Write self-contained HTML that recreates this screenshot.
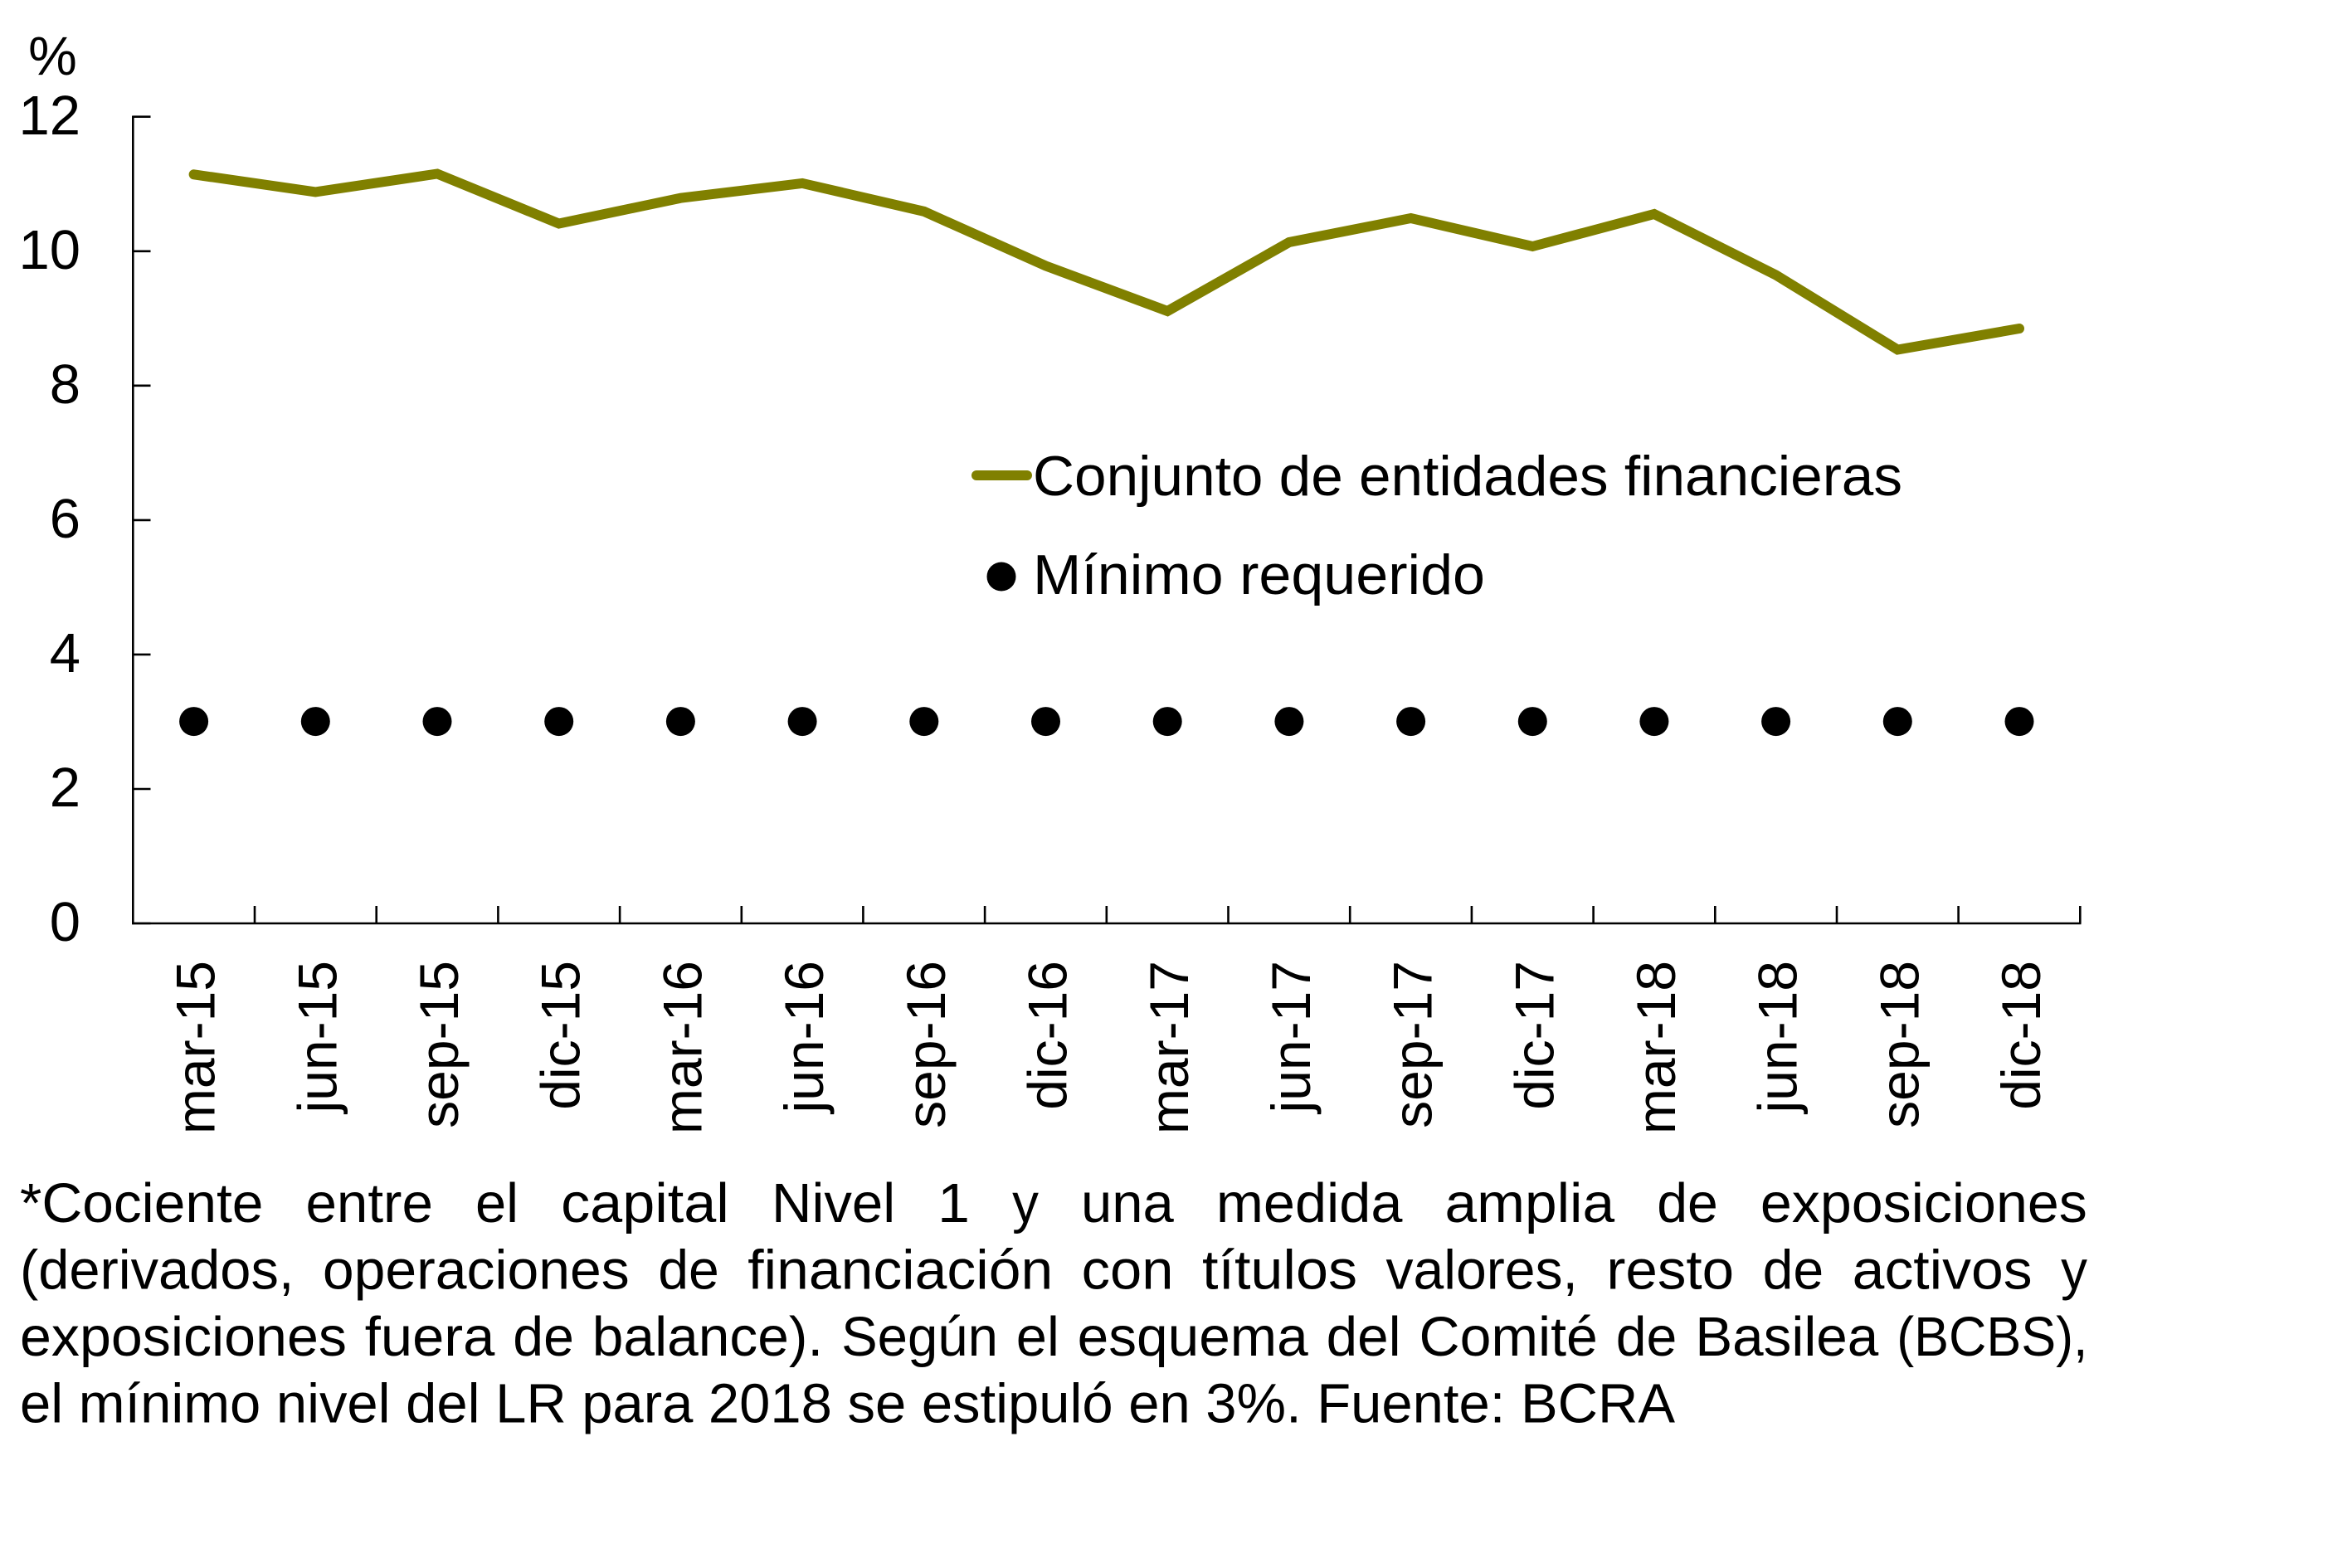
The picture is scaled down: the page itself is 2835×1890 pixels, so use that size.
<!DOCTYPE html>
<html>
<head>
<meta charset="utf-8">
<style>
html,body{margin:0;padding:0;background:#fff;}
svg{display:block;}
text{font-family:"Liberation Sans",sans-serif;fill:#000;}
</style>
</head>
<body>
<svg width="2835" height="1890" viewBox="0 0 2835 1890" xmlns="http://www.w3.org/2000/svg">
<rect width="2835" height="1890" fill="#fff"/>

<!-- unit label -->
<text x="63.5" y="90" font-size="66" text-anchor="middle">%</text>

<!-- y tick labels -->
<g font-size="67" text-anchor="end">
<text x="97" y="162">12</text>
<text x="97" y="324">10</text>
<text x="97" y="486">8</text>
<text x="97" y="648">6</text>
<text x="97" y="810">4</text>
<text x="97" y="972">2</text>
<text x="97" y="1134">0</text>
</g>

<!-- axes -->
<g stroke="#000" stroke-width="2.6" fill="none">
<line x1="160.3" y1="139.5" x2="160.3" y2="1114.3"/>
<line x1="159" y1="1113" x2="2508.5" y2="1113"/>
<line x1="160.3" y1="140.7" x2="181.5" y2="140.7"/>
<line x1="160.3" y1="302.8" x2="181.5" y2="302.8"/>
<line x1="160.3" y1="464.8" x2="181.5" y2="464.8"/>
<line x1="160.3" y1="626.9" x2="181.5" y2="626.9"/>
<line x1="160.3" y1="788.9" x2="181.5" y2="788.9"/>
<line x1="160.3" y1="951" x2="181.5" y2="951"/>
<line x1="160.3" y1="1113" x2="181.5" y2="1113"/>
<line x1="307.0" y1="1113" x2="307.0" y2="1092"/>
<line x1="453.7" y1="1113" x2="453.7" y2="1092"/>
<line x1="600.4" y1="1113" x2="600.4" y2="1092"/>
<line x1="747.1" y1="1113" x2="747.1" y2="1092"/>
<line x1="893.8" y1="1113" x2="893.8" y2="1092"/>
<line x1="1040.4" y1="1113" x2="1040.4" y2="1092"/>
<line x1="1187.1" y1="1113" x2="1187.1" y2="1092"/>
<line x1="1333.8" y1="1113" x2="1333.8" y2="1092"/>
<line x1="1480.5" y1="1113" x2="1480.5" y2="1092"/>
<line x1="1627.2" y1="1113" x2="1627.2" y2="1092"/>
<line x1="1773.9" y1="1113" x2="1773.9" y2="1092"/>
<line x1="1920.6" y1="1113" x2="1920.6" y2="1092"/>
<line x1="2067.3" y1="1113" x2="2067.3" y2="1092"/>
<line x1="2214.0" y1="1113" x2="2214.0" y2="1092"/>
<line x1="2360.6" y1="1113" x2="2360.6" y2="1092"/>
<line x1="2507.3" y1="1113" x2="2507.3" y2="1092"/>
</g>

<!-- x tick labels (rotated) -->
<g font-size="66" text-anchor="end">
<text transform="translate(258.6,1158) rotate(-90)">mar-15</text>
<text transform="translate(405.3,1158) rotate(-90)">jun-15</text>
<text transform="translate(552.0,1158) rotate(-90)">sep-15</text>
<text transform="translate(698.7,1158) rotate(-90)">dic-15</text>
<text transform="translate(845.4,1158) rotate(-90)">mar-16</text>
<text transform="translate(992.1,1158) rotate(-90)">jun-16</text>
<text transform="translate(1138.8,1158) rotate(-90)">sep-16</text>
<text transform="translate(1285.5,1158) rotate(-90)">dic-16</text>
<text transform="translate(1432.2,1158) rotate(-90)">mar-17</text>
<text transform="translate(1578.9,1158) rotate(-90)">jun-17</text>
<text transform="translate(1725.6,1158) rotate(-90)">sep-17</text>
<text transform="translate(1872.3,1158) rotate(-90)">dic-17</text>
<text transform="translate(2018.9,1158) rotate(-90)">mar-18</text>
<text transform="translate(2165.6,1158) rotate(-90)">jun-18</text>
<text transform="translate(2312.3,1158) rotate(-90)">sep-18</text>
<text transform="translate(2459.0,1158) rotate(-90)">dic-18</text>
</g>

<!-- main series -->
<polyline fill="none" stroke="#808000" stroke-width="12" stroke-linecap="round" stroke-linejoin="miter"
points="233.6,210.3 380.3,231.4 527.0,209.5 673.7,269.5 820.4,238.7 967.1,220.9 1113.8,254.9 1260.5,320.5 1407.2,375 1553.9,292 1700.6,263 1847.3,297 1993.9,258 2140.6,331.5 2287.3,421.5 2434.0,396"/>

<!-- minimum dots -->
<g fill="#000">
<circle cx="233.6" cy="869.6" r="17.5"/>
<circle cx="380.3" cy="869.6" r="17.5"/>
<circle cx="527.0" cy="869.6" r="17.5"/>
<circle cx="673.7" cy="869.6" r="17.5"/>
<circle cx="820.4" cy="869.6" r="17.5"/>
<circle cx="967.1" cy="869.6" r="17.5"/>
<circle cx="1113.8" cy="869.6" r="17.5"/>
<circle cx="1260.5" cy="869.6" r="17.5"/>
<circle cx="1407.2" cy="869.6" r="17.5"/>
<circle cx="1553.9" cy="869.6" r="17.5"/>
<circle cx="1700.6" cy="869.6" r="17.5"/>
<circle cx="1847.3" cy="869.6" r="17.5"/>
<circle cx="1993.9" cy="869.6" r="17.5"/>
<circle cx="2140.6" cy="869.6" r="17.5"/>
<circle cx="2287.3" cy="869.6" r="17.5"/>
<circle cx="2434.0" cy="869.6" r="17.5"/>
</g>

<!-- legend -->
<line x1="1177" y1="573" x2="1238" y2="573" stroke="#808000" stroke-width="12" stroke-linecap="round"/>
<text x="1245" y="597" font-size="68" textLength="1048" lengthAdjust="spacingAndGlyphs">Conjunto de entidades financieras</text>
<circle cx="1207" cy="695" r="17.5" fill="#000"/>
<text x="1245" y="716" font-size="68" textLength="545" lengthAdjust="spacingAndGlyphs">Mínimo requerido</text>

<!-- footnote -->
<g font-size="67">
<text x="24" y="1473" textLength="293.4" lengthAdjust="spacingAndGlyphs">*Cociente</text>
<text x="368.5" y="1473" textLength="153.4" lengthAdjust="spacingAndGlyphs">entre</text>
<text x="573.0" y="1473" textLength="52.0" lengthAdjust="spacingAndGlyphs">el</text>
<text x="676.1" y="1473" textLength="202.8" lengthAdjust="spacingAndGlyphs">capital</text>
<text x="930.0" y="1473" textLength="149.1" lengthAdjust="spacingAndGlyphs">Nivel</text>
<text x="1130.2" y="1473" textLength="38.8" lengthAdjust="spacingAndGlyphs">1</text>
<text x="1220.1" y="1473" textLength="31.8" lengthAdjust="spacingAndGlyphs">y</text>
<text x="1303.0" y="1473" textLength="111.8" lengthAdjust="spacingAndGlyphs">una</text>
<text x="1465.9" y="1473" textLength="224.5" lengthAdjust="spacingAndGlyphs">medida</text>
<text x="1741.5" y="1473" textLength="204.6" lengthAdjust="spacingAndGlyphs">amplia</text>
<text x="1997.2" y="1473" textLength="73.6" lengthAdjust="spacingAndGlyphs">de</text>
<text x="2121.9" y="1473" textLength="393.9" lengthAdjust="spacingAndGlyphs">exposiciones</text>
<text x="24" y="1553.5" textLength="330.4" lengthAdjust="spacingAndGlyphs">(derivados,</text>
<text x="388.9" y="1553.5" textLength="369.8" lengthAdjust="spacingAndGlyphs">operaciones</text>
<text x="793.2" y="1553.5" textLength="73.6" lengthAdjust="spacingAndGlyphs">de</text>
<text x="901.3" y="1553.5" textLength="367.9" lengthAdjust="spacingAndGlyphs">financiación</text>
<text x="1303.7" y="1553.5" textLength="110.8" lengthAdjust="spacingAndGlyphs">con</text>
<text x="1449.0" y="1553.5" textLength="187.0" lengthAdjust="spacingAndGlyphs">títulos</text>
<text x="1670.5" y="1553.5" textLength="231.4" lengthAdjust="spacingAndGlyphs">valores,</text>
<text x="1936.4" y="1553.5" textLength="153.7" lengthAdjust="spacingAndGlyphs">resto</text>
<text x="2124.6" y="1553.5" textLength="73.6" lengthAdjust="spacingAndGlyphs">de</text>
<text x="2232.7" y="1553.5" textLength="216.9" lengthAdjust="spacingAndGlyphs">activos</text>
<text x="2484.1" y="1553.5" textLength="31.8" lengthAdjust="spacingAndGlyphs">y</text>
<text x="24" y="1634" textLength="393.9" lengthAdjust="spacingAndGlyphs">exposiciones</text>
<text x="439.8" y="1634" textLength="156.6" lengthAdjust="spacingAndGlyphs">fuera</text>
<text x="618.3" y="1634" textLength="73.6" lengthAdjust="spacingAndGlyphs">de</text>
<text x="713.8" y="1634" textLength="278.4" lengthAdjust="spacingAndGlyphs">balance).</text>
<text x="1014.1" y="1634" textLength="188.8" lengthAdjust="spacingAndGlyphs">Según</text>
<text x="1224.8" y="1634" textLength="52.0" lengthAdjust="spacingAndGlyphs">el</text>
<text x="1298.7" y="1634" textLength="278.0" lengthAdjust="spacingAndGlyphs">esquema</text>
<text x="1598.6" y="1634" textLength="90.0" lengthAdjust="spacingAndGlyphs">del</text>
<text x="1710.5" y="1634" textLength="215.3" lengthAdjust="spacingAndGlyphs">Comité</text>
<text x="1947.7" y="1634" textLength="73.6" lengthAdjust="spacingAndGlyphs">de</text>
<text x="2043.2" y="1634" textLength="221.1" lengthAdjust="spacingAndGlyphs">Basilea</text>
<text x="2286.2" y="1634" textLength="230.3" lengthAdjust="spacingAndGlyphs">(BCBS),</text>
<text x="24" y="1714.5" textLength="1995" lengthAdjust="spacingAndGlyphs">el mínimo nivel del LR para 2018 se estipuló en 3%. Fuente: BCRA</text>
</g>
</svg>
</body>
</html>
